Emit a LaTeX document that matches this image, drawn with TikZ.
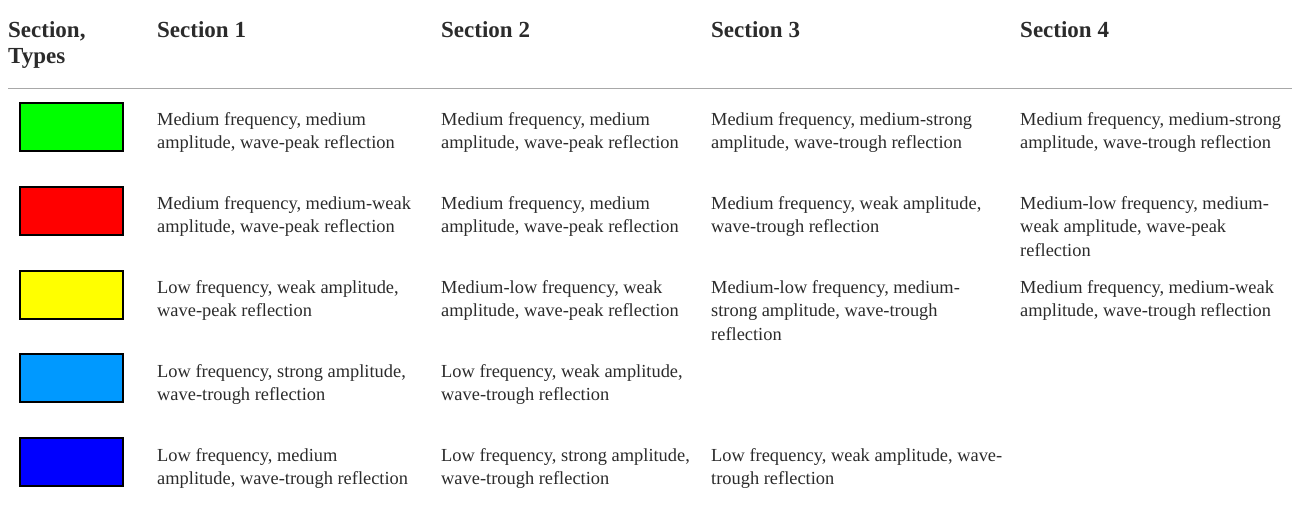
\documentclass[tikz,border=0pt]{standalone}
\usepackage{fontspec}
\setmainfont{Liberation Serif}
\definecolor{txt}{HTML}{2B2B2B}
\definecolor{rulegray}{HTML}{A8A8A8}
\definecolor{cgreen}{HTML}{00FF00}
\definecolor{cred}{HTML}{FF0000}
\definecolor{cyellow}{HTML}{FFFF00}
\definecolor{clblue}{HTML}{0099FF}
\definecolor{cblue}{HTML}{0000FF}
\begin{document}
\begin{tikzpicture}[x=1pt,y=-1pt,
  head/.style={anchor=north west,inner sep=0pt,align=left,text=txt,font=\fontsize{23}{26}\selectfont\bfseries},
  cell/.style={anchor=north west,inner sep=0pt,align=left,text=txt,font=\fontsize{18.4}{23.5}\selectfont},
  swatch/.style={draw=black,line width=2pt,minimum width=103pt,minimum height=48pt,inner sep=0pt,anchor=north west}]
\useasboundingbox (0,0) rectangle (1292,527);
% header
\node[head] (h0) at (8,21) {Section,\\Types};
\node[head] (h1) at (157,21) {Section 1};
\node[head] (h2) at (441,21) {Section 2};
\node[head] (h3) at (711,21) {Section 3};
\node[head] (h4) at (1020,21) {Section 4};
\coordinate (rl) at (8,88);
\coordinate (rr) at (1292,88);
\draw[rulegray,line width=1pt] (rl) -- (rr);
% swatches
\node[swatch,fill=cgreen]  (s1) at (19,102) {};
\node[swatch,fill=cred]    (s2) at (19,186) {};
\node[swatch,fill=cyellow] (s3) at (19,270) {};
\node[swatch,fill=clblue]  (s4) at (19,353) {};
\node[swatch,fill=cblue]   (s5) at (19,437) {};
% row 1
\node[cell] (r1c1) at (157,112) {Medium frequency, medium\\amplitude, wave-peak reflection};
\node[cell] (r1c2) at (441,112) {Medium frequency, medium\\amplitude, wave-peak reflection};
\node[cell] (r1c3) at (711,112) {Medium frequency, medium-strong\\amplitude, wave-trough reflection};
\node[cell] (r1c4) at (1020,112) {Medium frequency, medium-strong\\amplitude, wave-trough reflection};
% row 2
\node[cell] (r2c1) at (157,196) {Medium frequency, medium-weak\\amplitude, wave-peak reflection};
\node[cell] (r2c2) at (441,196) {Medium frequency, medium\\amplitude, wave-peak reflection};
\node[cell] (r2c3) at (711,196) {Medium frequency, weak amplitude,\\wave-trough reflection};
\node[cell] (r2c4) at (1020,196) {Medium-low frequency, medium-\\weak amplitude, wave-peak\\reflection};
% row 3
\node[cell] (r3c1) at (157,280) {Low frequency, weak amplitude,\\wave-peak reflection};
\node[cell] (r3c2) at (441,280) {Medium-low frequency, weak\\amplitude, wave-peak reflection};
\node[cell] (r3c3) at (711,280) {Medium-low frequency, medium-\\strong amplitude, wave-trough\\reflection};
\node[cell] (r3c4) at (1020,280) {Medium frequency, medium-weak\\amplitude, wave-trough reflection};
% row 4
\node[cell] (r4c1) at (157,364) {Low frequency, strong amplitude,\\wave-trough reflection};
\node[cell] (r4c2) at (441,364) {Low frequency, weak amplitude,\\wave-trough reflection};
% row 5
\node[cell] (r5c1) at (157,448) {Low frequency, medium\\amplitude, wave-trough reflection};
\node[cell] (r5c2) at (441,448) {Low frequency, strong amplitude,\\wave-trough reflection};
\node[cell] (r5c3) at (711,448) {Low frequency, weak amplitude, wave-\\trough reflection};
\end{tikzpicture}
\end{document}
